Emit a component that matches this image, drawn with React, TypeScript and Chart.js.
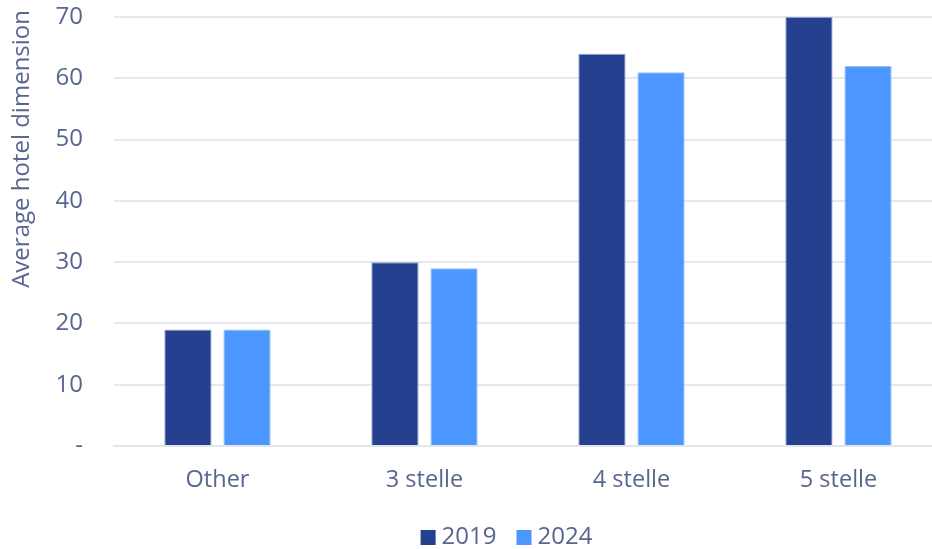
import React, { useEffect, useRef } from "react";
import { Chart, registerables } from "chart.js";

Chart.register(...registerables);

const categories = ["Other", "3 stelle", "4 stelle", "5 stelle"];
const series2019 = [19, 30, 64, 70];
const series2024 = [19, 29, 61, 62];
const yTicks = [0, 10, 20, 30, 40, 50, 60, 70];
const yTitle = "Average hotel dimension";

const TEXT = "#58668f";
const FONT = "'Open Sans', 'Noto Sans', sans-serif";
const FS = 24;

const extras = {
  id: "extras",
  afterDraw(chart: any) {
    const ctx = chart.ctx;
    const ds = chart.data.datasets;
    const box = 15;
    const gap = 6;
    const spacing = 20;
    ctx.save();
    ctx.font = `${FS}px ${FONT}`;
    const widths = ds.map((d: any) => ctx.measureText(d.label).width);
    const total =
      widths.reduce((a: number, w: number) => a + box + gap + w, 0) + spacing * (ds.length - 1);
    const cy = 537.5;
    let x = 506.5 - total / 2;
    ds.forEach((d: any, i: number) => {
      ctx.fillStyle = d.backgroundColor;
      ctx.fillRect(x, cy - box / 2, box, box);
      x += box + gap;
      ctx.fillStyle = TEXT;
      ctx.textBaseline = "middle";
      ctx.textAlign = "left";
      ctx.fillText(d.label, x, cy);
      x += widths[i] + spacing;
    });
    // y-axis title, anchored near the top
    ctx.translate(22.5, 10);
    ctx.rotate(-Math.PI / 2);
    ctx.textAlign = "right";
    ctx.textBaseline = "middle";
    ctx.fillStyle = TEXT;
    ctx.fillText(yTitle, 0, 0);
    ctx.restore();
  },
};

export default function App() {
  const ref = useRef<HTMLCanvasElement | null>(null);

  useEffect(() => {
    document.body.style.margin = "0";
    document.body.style.overflow = "hidden";
    const ctx = ref.current;
    if (!ctx) return;
    const chart = new Chart(ctx, {
      type: "bar",
      data: {
        labels: categories,
        datasets: [
          {
            label: "2019",
            data: series2019,
            backgroundColor: "#24408e",
            borderColor: "rgba(110,140,210,0.8)",
            borderWidth: 1,
            categoryPercentage: 0.571,
            barPercentage: 0.8,
          },
          {
            label: "2024",
            data: series2024,
            backgroundColor: "#4c96ff",
            borderColor: "rgba(140,185,255,0.9)",
            borderWidth: 1,
            categoryPercentage: 0.571,
            barPercentage: 0.8,
          },
        ],
      },
      options: {
        animation: false,
        responsive: false,
        maintainAspectRatio: false,
        layout: { padding: { top: 17, left: 0, right: 0, bottom: 45 } },
        plugins: {
          tooltip: { enabled: false },
          legend: { display: false },
        },
        scales: {
          x: {
            grid: { display: false, drawTicks: false },
            border: { display: true, color: "#e3e5ec", width: 2 },
            ticks: {
              color: TEXT,
              font: { family: FONT, size: 23.5 },
              padding: 20,
            },
            afterFit: (scale: any) => {
              scale.height = 58;
            },
          },
          y: {
            min: 0,
            max: 70,
            afterBuildTicks: (scale: any) => {
              scale.ticks = yTicks.map((v) => ({ value: v }));
            },
            grid: { color: "#e6e8ef", lineWidth: 2, drawTicks: false },
            border: { display: false },
            ticks: {
              color: TEXT,
              font: { family: FONT, size: FS },
              padding: 31,
              callback: (v: any) => (Number(v) === 0 ? "-" : String(v)),
            },
            title: { display: false },
            afterFit: (scale: any) => {
              scale.width = 114;
              scale.paddingTop = 0;
              scale.paddingBottom = 0;
            },
          },
        },
      },
      plugins: [extras],
    });
    return () => chart.destroy();
  }, []);

  return (
    <div style={{ position: "absolute", left: 0, top: 0, width: 942, height: 549 }}>
      <canvas ref={ref} width={942} height={549} style={{ width: 942, height: 549 }} />
    </div>
  );
}
